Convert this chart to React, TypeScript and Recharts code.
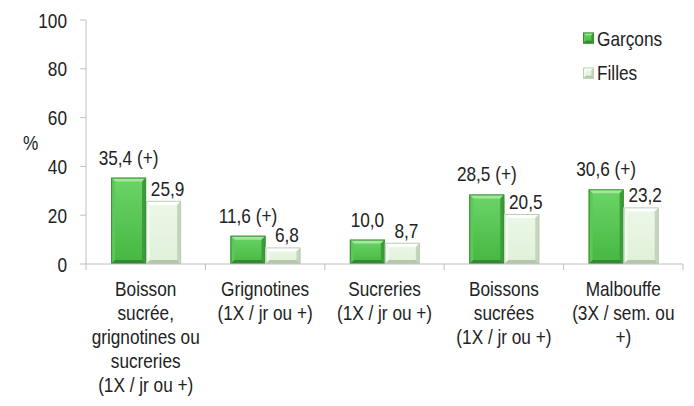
import React from 'react';
import { BarChart, Bar, XAxis, YAxis, LabelList, Legend } from 'recharts';

const categories = [
  'Boisson\nsucrée,\ngrignotines ou\nsucreries\n(1X / jr ou +)',
  'Grignotines\n(1X / jr ou +)',
  'Sucreries\n(1X / jr ou +)',
  'Boissons\nsucrées\n(1X / jr ou +)',
  'Malbouffe\n(3X / sem. ou\n+)',
];
const garcons = [35.4, 11.6, 10.0, 28.5, 30.6];
const filles = [25.9, 6.8, 8.7, 20.5, 23.2];
const garconsSig = ['(+)', '(+)', '', '(+)', '(+)'];
const fillesSig = ['', '', '', '', ''];
const yTicks = [0, 20, 40, 60, 80, 100];
const seriesNames = ['Garçons', 'Filles'];

const fmt = (v: number, s: string) => v.toFixed(1).replace('.', ',') + (s ? ' ' + s : '');

const data = categories.map((c, i) => ({
  cat: c,
  g: garcons[i],
  f: filles[i],
  gLabel: fmt(garcons[i], garconsSig[i]),
  fLabel: fmt(filles[i], fillesSig[i]),
}));

const FONT = "'Liberation Sans', Arial, sans-serif";
const FS = 21;
const SX = 0.82;
const TEXT = '#222222';
const AXIS = '#bfbfbf';

const NText = ({ x, y, anchor = 'middle', children }: any) => (
  <text
    transform={`translate(${x},${y}) scale(${SX},1)`}
    x={0}
    y={0}
    textAnchor={anchor}
    fontSize={FS}
    fill={TEXT}
    fontFamily={FONT}
  >
    {children}
  </text>
);

const palettes: Record<string, any> = {
  g: { faceTop: '#6cd467', faceBot: '#45b742', top: '#a3e79d', left: '#5bc857', right: '#3c9c39', bottom: '#32892f', stroke: '#3b8e38' },
  f: { faceTop: '#edf8e8', faceBot: '#dff0d8', top: '#ffffff', left: '#f1faee', right: '#c3d6bd', bottom: '#b4c7ad', stroke: '#bccfb5' },
};

const Defs = () => (
  <defs>
    {Object.keys(palettes).map((k) => (
      <linearGradient key={k} id={`face-${k}`} x1="0" y1="0" x2="0" y2="1">
        <stop offset="0%" stopColor={palettes[k].faceTop} />
        <stop offset="100%" stopColor={palettes[k].faceBot} />
      </linearGradient>
    ))}
  </defs>
);

const BevelBar = (props: any) => {
  const { x, y, width, height, kind } = props;
  if (!height || height <= 0) return null;
  const p = palettes[kind];
  const b = Math.min(4, width / 4, height / 4);
  const x2 = x + width;
  const y2 = y + height;
  return (
    <g>
      <rect x={x} y={y} width={width} height={height} fill={`url(#face-${kind})`} />
      <polygon points={`${x},${y} ${x2},${y} ${x2 - b},${y + b} ${x + b},${y + b}`} fill={p.top} />
      <polygon points={`${x},${y} ${x + b},${y + b} ${x + b},${y2 - b} ${x},${y2}`} fill={p.left} />
      <polygon points={`${x2},${y} ${x2},${y2} ${x2 - b},${y2 - b} ${x2 - b},${y + b}`} fill={p.right} />
      <polygon points={`${x},${y2} ${x + b},${y2 - b} ${x2 - b},${y2 - b} ${x2},${y2}`} fill={p.bottom} />
      <rect x={x + 0.5} y={y + 0.5} width={width - 1} height={height - 1} fill="none" stroke={p.stroke} strokeWidth={1} />
    </g>
  );
};

const CategoryTick = (props: any) => {
  const { x, y, payload, width, visibleTicksCount, index } = props;
  const lines = String(payload.value).split('\n');
  const count = visibleTicksCount || categories.length;
  const half = (width ? width : 596) / count / 2;
  return (
    <g>
      <line x1={x - half} x2={x - half} y1={y} y2={y + 6} stroke={AXIS} />
      {index === count - 1 && <line x1={x + half} x2={x + half} y1={y} y2={y + 6} stroke={AXIS} />}
      {lines.map((l, i) => (
        <NText key={i} x={x} y={y + 32 + i * 24}>
          {l}
        </NText>
      ))}
    </g>
  );
};

const ValueTick = (props: any) => {
  const { x, y, payload } = props;
  return (
    <NText x={x} y={y + 7.5} anchor="end">
      {payload.value}
    </NText>
  );
};

const PercentLabel = (props: any) => {
  const vb = props.viewBox || { x: 0, y: 20, width: 86, height: 244 };
  return (
    <NText x={vb.x + 23} y={vb.y + vb.height / 2 + 7.5} anchor="start">
      %
    </NText>
  );
};

const makeBarLabel = (offset: number, dx: number) => (p: any) => {
  const { x, y, width, value } = p;
  return (
    <NText x={Number(x) + Number(width) / 2 + dx} y={Number(y) - offset}>
      {value}
    </NText>
  );
};

const LegendContent = () => {
  const items = [
    { name: seriesNames[0], kind: 'g' },
    { name: seriesNames[1], kind: 'f' },
  ];
  return (
    <div style={{ fontFamily: FONT, fontSize: FS, color: TEXT, lineHeight: 1 }}>
      {items.map((it) => (
        <div key={it.name} style={{ display: 'flex', alignItems: 'center', height: 34.5 }}>
          <svg width={16} height={12} style={{ flex: 'none' }}>
            <Defs />
            <BevelBar x={2} y={0.5} width={11} height={11} kind={it.kind} />
          </svg>
          <span style={{ display: 'inline-block', transform: `scaleX(${SX})`, transformOrigin: 'left center', whiteSpace: 'nowrap' }}>
            {it.name}
          </span>
        </div>
      ))}
    </div>
  );
};

export default function App() {
  return (
    <div style={{ position: 'absolute', left: 0, top: 0, width: 694, height: 406, background: '#fff' }}>
      <BarChart
        width={694}
        height={406}
        data={data}
        margin={{ top: 20, right: 11, bottom: 0, left: 0 }}
        barCategoryGap="21%"
        barGap={0}
      >
        <Defs />
        <XAxis
          dataKey="cat"
          height={142}
          interval={0}
          tickSize={0}
          tickMargin={0}
          tickLine={false}
          axisLine={{ stroke: AXIS }}
          tick={<CategoryTick />}
        />
        <YAxis
          width={86}
          domain={[0, 100]}
          ticks={yTicks}
          interval={0}
          tickSize={6}
          tickMargin={13}
          axisLine={{ stroke: AXIS }}
          tickLine={{ stroke: AXIS }}
          tick={<ValueTick />}
          label={<PercentLabel />}
        />
        <Legend
          layout="vertical"
          align="center"
          verticalAlign="middle"
          content={<LegendContent />}
          wrapperStyle={{ left: 581, top: 21, width: 110 }}
        />
        <Bar dataKey="g" name={seriesNames[0]} isAnimationActive={false} shape={(p: any) => <BevelBar {...p} kind="g" />}>
          <LabelList dataKey="gLabel" content={makeBarLabel(13, 0)} />
        </Bar>
        <Bar dataKey="f" name={seriesNames[1]} isAnimationActive={false} shape={(p: any) => <BevelBar {...p} kind="f" />}>
          <LabelList dataKey="fLabel" content={makeBarLabel(5, 4)} />
        </Bar>
      </BarChart>
    </div>
  );
}
